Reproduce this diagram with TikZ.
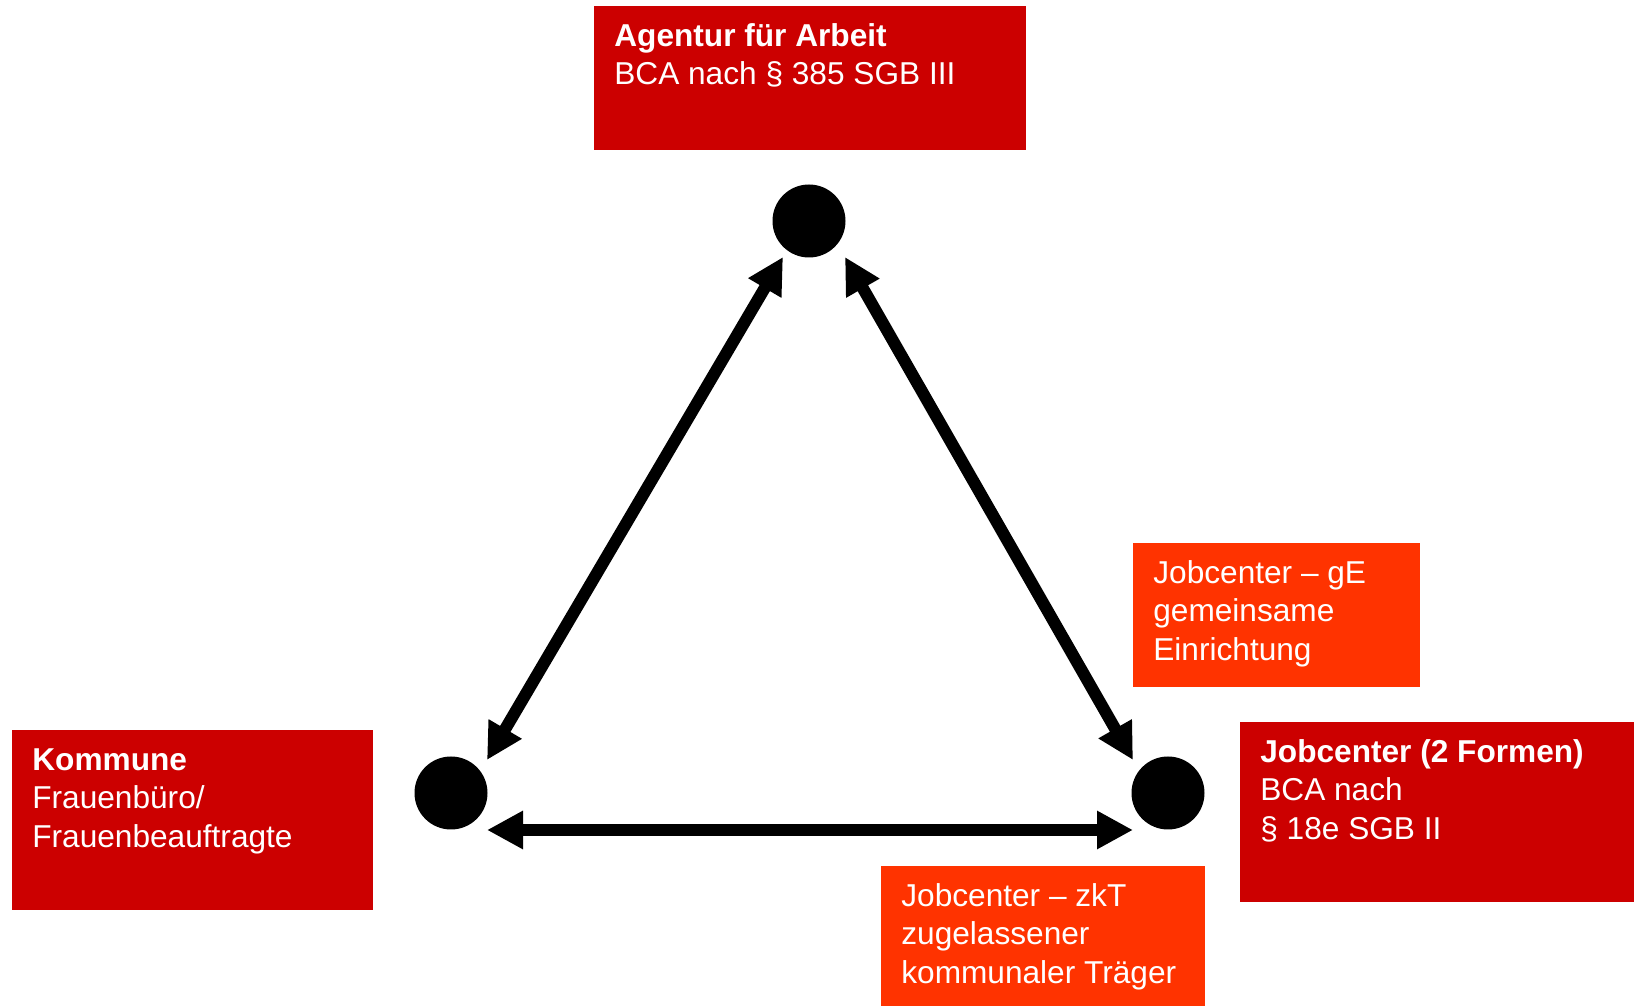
\documentclass[tikz,border=0pt]{standalone}
\usepackage{fontspec}
\setmainfont{Liberation Sans}
\usetikzlibrary{arrows.meta}
\definecolor{boxred}{HTML}{CC0000}
\definecolor{boxorange}{HTML}{FF3300}
\newcommand{\boxtext}[3]{\begin{minipage}[t][#1][t]{#2}\rule{0pt}{0.81cm}#3\end{minipage}}

\begin{document}
\begin{tikzpicture}[
    box/.style={anchor=north west, inner xsep=0.40cm, inner ysep=0pt, text=white, font=\fontsize{18}{21.7}\selectfont},
    dot/.style={circle, fill=black, inner sep=0pt, minimum size=1.46cm},
    link/.style={line width=0.24cm, {Triangle[length=0.72cm,width=0.72cm]}-{Triangle[length=0.72cm,width=0.72cm]}}
  ]
        \useasboundingbox (0,0) rectangle (32.78,20.12);
        \node[box, fill=boxred] (AA) at (11.88, 20.00) {\boxtext{2.88cm}{7.84cm}{\textbf{Agentur für Arbeit}\\BCA nach § 385 SGB III}};
        \node[box, fill=boxred] (KO) at (0.24, 5.52) {\boxtext{3.60cm}{6.42cm}{\textbf{Kommune}\\Frauenbüro/\\Frauenbeauftragte}};
        \node[box, fill=boxorange] (GE) at (22.66, 9.26) {\boxtext{2.88cm}{4.94cm}{Jobcenter – gE\\gemeinsame\\Einrichtung}};
        \node[box, fill=boxred] (JC) at (24.80, 5.68) {\boxtext{3.60cm}{7.08cm}{\textbf{Jobcenter (2 Formen)}\\BCA nach\\§ 18e SGB II}};
        \node[box, fill=boxorange] (ZK) at (17.62, 2.80) {\boxtext{2.80cm}{5.68cm}{Jobcenter – zkT\\zugelassener\\kommunaler Träger}};
        \node[dot] (DT) at (16.18, 15.70) {};
        \node[dot] (DL) at (9.02, 4.26) {};
        \node[dot] (DR) at (23.36, 4.26) {};
        \draw[link] ([shift={(0.72,0.66)}]DL.center) -- ([shift={(-0.52,-0.72)}]DT.center);
        \draw[link] ([shift={(0.72,-0.72)}]DT.center) -- ([shift={(-0.70,0.66)}]DR.center);
        \draw[link] ([shift={(0.72,-0.74)}]DL.center) -- ([shift={(-0.70,-0.74)}]DR.center);
\end{tikzpicture}
\end{document}
